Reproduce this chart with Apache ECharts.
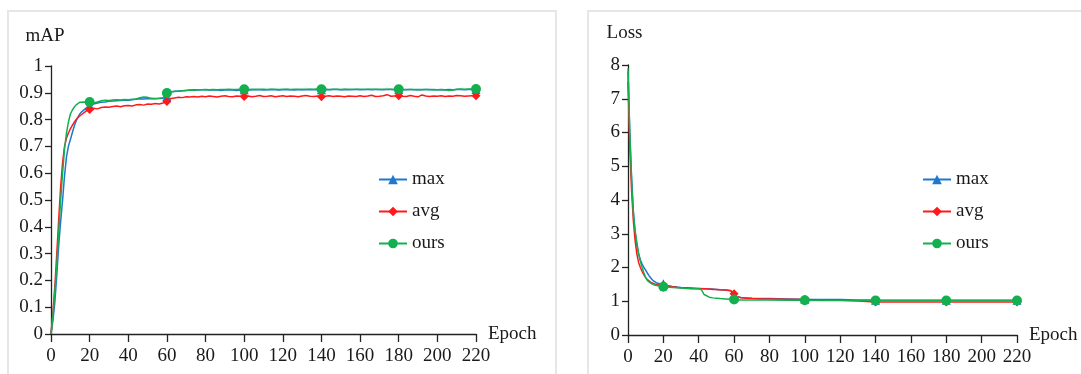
<!DOCTYPE html>
<html>
<head>
<meta charset="utf-8">
<script src="https://cdn.jsdelivr.net/npm/echarts@6/dist/echarts.min.js"></script>
<style>
html,body{margin:0;padding:0;background:#fff;}
#chart{width:1081px;height:374px;}
</style>
</head>
<body>
<div id="chart"></div>
<script>
// ---------- Data ----------
const seriesNames = ['max', 'avg', 'ours'];
const markerEpochs = [20, 60, 100, 140, 180, 220];
const xTicks = [0, 20, 40, 60, 80, 100, 120, 140, 160, 180, 200, 220];

const mapEpochs = [
  0, 1, 2, 3, 4, 5, 6, 7, 8, 9,
  10, 11, 12, 13, 14, 15, 16, 17, 18, 19,
  20, 22, 24, 26, 28, 30, 32, 34, 36, 38,
  40, 42, 44, 46, 48, 50, 52, 54, 56, 58,
  60, 62, 64, 66, 68, 70, 72, 74, 76, 78,
  80, 82, 84, 86, 88, 90, 92, 94, 96, 98,
  100, 102, 104, 106, 108, 110, 112, 114, 116, 118,
  120, 122, 124, 126, 128, 130, 132, 134, 136, 138,
  140, 142, 144, 146, 148, 150, 152, 154, 156, 158,
  160, 162, 164, 166, 168, 170, 172, 174, 176, 178,
  180, 182, 184, 186, 188, 190, 192, 194, 196, 198,
  200, 202, 204, 206, 208, 210, 212, 214, 216, 218,
  220
];
const mapMax = [
  0.00, 0.05, 0.12, 0.22, 0.33, 0.42, 0.50, 0.59, 0.66, 0.70,
  0.725, 0.75, 0.775, 0.795, 0.81, 0.822, 0.83, 0.836, 0.842, 0.848,
  0.853, 0.858, 0.862, 0.865, 0.866, 0.868, 0.869, 0.870, 0.871, 0.872,
  0.872, 0.874, 0.876, 0.878, 0.877, 0.878, 0.879, 0.878, 0.879, 0.880,
  0.886, 0.904, 0.906, 0.907, 0.908, 0.909, 0.910, 0.911, 0.910, 0.911,
  0.911, 0.910, 0.911, 0.910, 0.909, 0.910, 0.911, 0.910, 0.909, 0.910,
  0.911, 0.910, 0.911, 0.912, 0.911, 0.910, 0.911, 0.912, 0.911, 0.910,
  0.911, 0.912, 0.911, 0.910, 0.911, 0.912, 0.911, 0.912, 0.911, 0.912,
  0.911, 0.912, 0.911, 0.912, 0.912, 0.911, 0.912, 0.911, 0.912, 0.912,
  0.911, 0.912, 0.912, 0.911, 0.912, 0.912, 0.911, 0.912, 0.912, 0.911,
  0.912, 0.911, 0.912, 0.912, 0.911, 0.912, 0.911, 0.912, 0.912, 0.911,
  0.911, 0.912, 0.911, 0.912, 0.911, 0.912, 0.912, 0.911, 0.912, 0.912,
  0.912
];
const mapAvg = [
  0.00, 0.08, 0.18, 0.30, 0.43, 0.55, 0.64, 0.70, 0.73, 0.75,
  0.765, 0.778, 0.79, 0.80, 0.808, 0.815, 0.82, 0.826, 0.831, 0.836,
  0.838, 0.842, 0.840, 0.845, 0.847, 0.846, 0.849, 0.851, 0.848, 0.852,
  0.853, 0.851, 0.855, 0.856, 0.854, 0.858, 0.857, 0.860, 0.858, 0.862,
  0.868, 0.879, 0.881, 0.883, 0.882, 0.885, 0.884, 0.886, 0.884, 0.887,
  0.885, 0.888, 0.886, 0.884, 0.887, 0.889, 0.886, 0.885, 0.888, 0.887,
  0.886, 0.888, 0.885, 0.887, 0.890, 0.886, 0.887, 0.889, 0.885, 0.887,
  0.889, 0.886, 0.888, 0.887, 0.885, 0.888, 0.890, 0.887, 0.886, 0.888,
  0.885, 0.887, 0.889, 0.886, 0.888, 0.887, 0.885, 0.888, 0.887, 0.886,
  0.889, 0.886, 0.888, 0.891, 0.886, 0.887, 0.889, 0.893, 0.887, 0.888,
  0.889, 0.887, 0.886, 0.890, 0.887, 0.885, 0.892, 0.888, 0.886, 0.888,
  0.887, 0.889, 0.886, 0.888, 0.887, 0.890, 0.889, 0.887, 0.888, 0.889,
  0.889
];
const mapOurs = [
  0.00, 0.07, 0.16, 0.26, 0.38, 0.50, 0.60, 0.69, 0.75, 0.79,
  0.82, 0.835, 0.846, 0.855, 0.861, 0.865, 0.864, 0.866, 0.863, 0.865,
  0.866, 0.862, 0.866, 0.870, 0.872, 0.871, 0.873, 0.874, 0.873, 0.875,
  0.874, 0.876, 0.877, 0.882, 0.884, 0.883, 0.879, 0.879, 0.880, 0.882,
  0.899, 0.903, 0.905, 0.906, 0.908, 0.909, 0.910, 0.909, 0.911, 0.911,
  0.912, 0.911, 0.912, 0.911, 0.912, 0.912, 0.913, 0.912, 0.912, 0.913,
  0.913, 0.912, 0.913, 0.912, 0.913, 0.913, 0.912, 0.913, 0.913, 0.912,
  0.913, 0.913, 0.912, 0.913, 0.913, 0.912, 0.913, 0.913, 0.913, 0.914,
  0.913, 0.913, 0.912, 0.913, 0.913, 0.912, 0.913, 0.913, 0.912, 0.913,
  0.913, 0.912, 0.913, 0.913, 0.913, 0.912, 0.913, 0.913, 0.913, 0.912,
  0.913, 0.912, 0.911, 0.912, 0.912, 0.911, 0.912, 0.912, 0.911, 0.912,
  0.911, 0.911, 0.910, 0.909, 0.910, 0.913, 0.914, 0.913, 0.914, 0.914,
  0.914
];

const lossEpochs = [
  0, 1, 2, 3, 4, 5, 6, 7, 8, 9,
  10, 11, 12, 13, 14, 15, 16, 17, 18, 19,
  20, 22, 25, 28, 30, 33, 36, 39, 40, 41,
  42, 43, 44, 46, 48, 50, 52, 55, 58, 59,
  60, 61, 62, 64, 67, 70, 75, 80, 90, 100,
  110, 120, 130, 135, 140, 150, 160, 170, 180, 190,
  200, 210, 220
];
const lossMax = [
  7.8, 6.0, 4.7, 3.7, 3.05, 2.65, 2.4, 2.22, 2.1, 2.0,
  1.92, 1.83, 1.75, 1.68, 1.62, 1.58, 1.55, 1.53, 1.52, 1.51,
  1.52, 1.47, 1.44, 1.42, 1.41, 1.40, 1.39, 1.38, 1.38, 1.38,
  1.37, 1.37, 1.37, 1.36, 1.36, 1.35, 1.34, 1.33, 1.31, 1.29,
  1.20, 1.14, 1.12, 1.11, 1.10, 1.09, 1.085, 1.08, 1.07, 1.06,
  1.055, 1.05, 1.04, 1.035, 1.03, 1.03, 1.03, 1.03, 1.03, 1.03,
  1.03, 1.03, 1.03
];
const lossAvg = [
  7.5, 5.6, 4.3, 3.4, 2.8, 2.4, 2.15, 2.0, 1.88, 1.78,
  1.70, 1.64, 1.60, 1.56, 1.53, 1.51, 1.50, 1.49, 1.48, 1.47,
  1.46, 1.45, 1.43, 1.41, 1.40, 1.39, 1.38, 1.38, 1.38, 1.37,
  1.37, 1.37, 1.37, 1.36, 1.35, 1.35, 1.34, 1.33, 1.32, 1.30,
  1.22, 1.15, 1.12, 1.10, 1.09, 1.08, 1.07, 1.07, 1.06, 1.05,
  1.04, 1.03, 1.01, 0.99, 0.98, 0.98, 0.98, 0.98, 0.98, 0.98,
  0.98, 0.98, 0.98
];
const lossOurs = [
  7.9, 6.0, 4.6, 3.6, 3.1, 2.75, 2.42, 2.18, 2.0, 1.84,
  1.70, 1.61, 1.56, 1.53, 1.50, 1.48, 1.47, 1.46, 1.45, 1.44,
  1.43, 1.42, 1.41, 1.40, 1.39, 1.38, 1.37, 1.37, 1.37, 1.36,
  1.30, 1.20, 1.15, 1.12, 1.10, 1.09, 1.08, 1.07, 1.06, 1.055,
  1.05, 1.05, 1.045, 1.04, 1.04, 1.04, 1.035, 1.035, 1.03, 1.03,
  1.025, 1.02, 1.02, 1.02, 1.02, 1.02, 1.02, 1.02, 1.02, 1.02,
  1.02, 1.02, 1.02
];

// ---------- Styling ----------
const FONT = 'Liberation Serif';
const TXT = '#1a1a1a';
const FS = 19;
const colors = { max: '#1f77d0', avg: '#ff1a1a', ours: '#14b050' };
const symbols = { max: 'triangle', avg: 'diamond', ours: 'circle' };
const symSizes = { max: 9, avg: 9, ours: 10 };

function pairs(xs, ys) { return xs.map((x, i) => [x, ys[i]]); }

function makeSeries(name, xs, ys, idx) {
  return {
    name: name,
    type: 'line',
    xAxisIndex: idx,
    yAxisIndex: idx,
    data: pairs(xs, ys),
    showSymbol: true,
    symbol: symbols[name],
    symbolSize: function (v) { return markerEpochs.indexOf(v[0]) >= 0 ? symSizes[name] : 0; },
    lineStyle: { color: colors[name], width: 1.5 },
    itemStyle: { color: colors[name], borderWidth: 0 },
    emphasis: { disabled: true },
    animation: false
  };
}

function xAxisCfg(idx) {
  return {
    type: 'value', gridIndex: idx, min: 0, max: 220, interval: 20,
    name: 'Epoch', nameLocation: 'end', nameGap: 12,
    nameTextStyle: { fontFamily: FONT, fontSize: FS, color: TXT },
    axisLine: { show: true, lineStyle: { color: '#222', width: 1.3 } },
    axisTick: { show: true, length: 8, lineStyle: { color: '#222', width: 1.3 } },
    axisLabel: { margin: 13, fontFamily: FONT, fontSize: FS, color: TXT,
      formatter: function (v) { return xTicks.indexOf(v) >= 0 ? String(v) : ''; } },
    splitLine: { show: false }
  };
}
function yAxisCfg(idx, name, max, interval, gap, pad) {
  return {
    type: 'value', gridIndex: idx, min: 0, max: max, interval: interval,
    name: name, nameLocation: 'end', nameGap: gap,
    nameTextStyle: { fontFamily: FONT, fontSize: FS, color: TXT, padding: [0, pad, 0, 0] },
    axisLine: { show: true, lineStyle: { color: '#222', width: 1.3 } },
    axisTick: { show: true, length: 6, lineStyle: { color: '#222', width: 1.3 } },
    axisLabel: { margin: 8, fontFamily: FONT, fontSize: FS, color: TXT },
    splitLine: { show: false }
  };
}
function legendCfg(left) {
  return {
    data: seriesNames, orient: 'vertical', left: left, top: 165,
    itemWidth: 28, itemHeight: 12, itemGap: 13,
    textStyle: { fontFamily: FONT, fontSize: FS, color: TXT, lineHeight: 18 },
    selectedMode: false
  };
}

const chart = echarts.init(document.getElementById('chart'), null, { renderer: 'canvas' });
chart.setOption({
  backgroundColor: '#ffffff',
  animation: false,
  graphic: [
    { type: 'rect', shape: { x: 8, y: 11, width: 548, height: 420 },
      style: { fill: 'none', stroke: '#e6e6e6', lineWidth: 2 }, z: -10, silent: true },
    { type: 'rect', shape: { x: 588, y: 11, width: 600, height: 420 },
      style: { fill: 'none', stroke: '#e6e6e6', lineWidth: 2 }, z: -10, silent: true }
  ],
  grid: [
    { left: 51, top: 66, width: 425, height: 268 },
    { left: 628, top: 65, width: 389, height: 270 }
  ],
  xAxis: [xAxisCfg(0), xAxisCfg(1)],
  yAxis: [
    yAxisCfg(0, 'mAP', 1, 0.1, 20, 12),
    yAxisCfg(1, 'Loss', 8, 1, 22, 7)
  ],
  legend: [legendCfg(373), legendCfg(917)],
  series: [
    makeSeries('max', mapEpochs, mapMax, 0),
    makeSeries('avg', mapEpochs, mapAvg, 0),
    makeSeries('ours', mapEpochs, mapOurs, 0),
    makeSeries('max', lossEpochs, lossMax, 1),
    makeSeries('avg', lossEpochs, lossAvg, 1),
    makeSeries('ours', lossEpochs, lossOurs, 1)
  ]
});
</script>
</body>
</html>
